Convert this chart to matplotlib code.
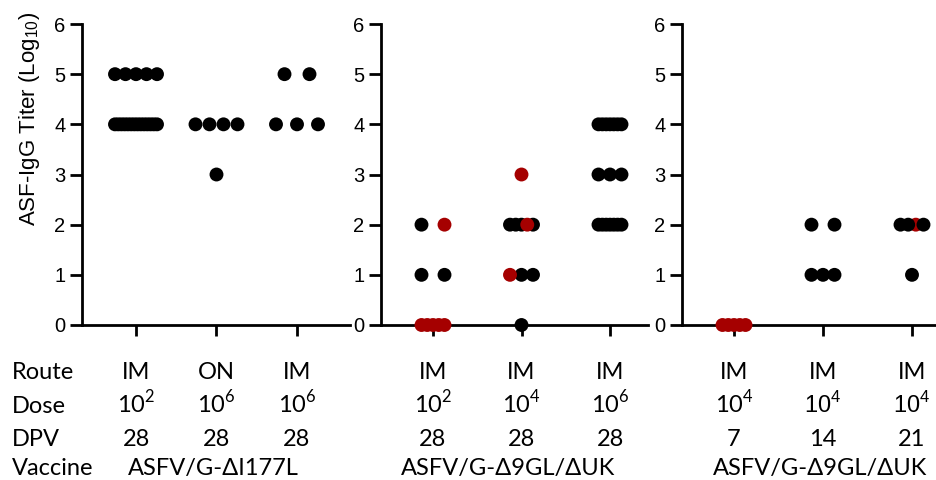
import matplotlib
matplotlib.use("Agg")
import matplotlib.pyplot as plt
import numpy as np
from matplotlib.transforms import blended_transform_factory

# ---------------- data ----------------
# each panel: three groups; values = log10 titer of each animal, red = 1 marks red dots
p1_values = [[5, 5, 5, 5, 5, 4, 4, 4, 4, 4, 4, 4, 4, 4, 4, 4, 4, 4, 4],
             [4, 4, 4, 4, 3],
             [5, 5, 4, 4, 4]]
p1_red = [[0] * 19, [0] * 5, [0] * 5]

p2_values = [[2, 2, 1, 1, 0, 0, 0, 0, 0],
             [3, 2, 2, 2, 2, 2, 1, 1, 1, 0],
             [4, 4, 4, 4, 4, 4, 4, 3, 3, 3, 2, 2, 2, 2, 2, 2, 2]]
p2_red = [[0, 1, 0, 0, 1, 1, 1, 1, 1],
          [1, 0, 0, 0, 1, 0, 1, 0, 0, 0],
          [0] * 17]

p3_values = [[0, 0, 0, 0, 0],
             [2, 2, 1, 1, 1],
             [2, 2, 2, 2, 1]]
p3_red = [[1] * 5, [0] * 5, [0, 0, 1, 0, 0]]

route = [["IM", "ON", "IM"], ["IM", "IM", "IM"], ["IM", "IM", "IM"]]
dose_exp = [[2, 6, 6], [2, 4, 6], [4, 4, 4]]
dpv = [["28", "28", "28"], ["28", "28", "28"], ["7", "14", "21"]]
vaccine = ["ASFV/G-ΔI177L", "ASFV/G-Δ9GL/ΔUK", "ASFV/G-Δ9GL/ΔUK"]
row_names = ["Route", "Dose", "DPV", "Vaccine"]
y_ticks = [0, 1, 2, 3, 4, 5, 6]
y_label = r"ASF-IgG Titer (Log$_{\mathregular{10}}$)"

# ---------------- layout (pixels) ----------------
W, H = 937, 480
panel_px = [(82, 350), (381, 648), (682, 937)]   # left/right of each axes
tick_px = [(136, 297), (433, 610), (734, 912)]   # pixel of group 1 and group 3
top_px, bot_px = 24, 325
spread_px = [42, 23, 23]
gap_cap_px = 25
red_on_top = [True, True, False]
BLACK, RED = "#000000", "#A50000"
marker_s = 100

panels = [(p1_values, p1_red), (p2_values, p2_red), (p3_values, p3_red)]

fig = plt.figure(figsize=(W / 100, H / 100), dpi=100)
axes = []
for i, (vals, reds) in enumerate(panels):
    l, r = panel_px[i]
    ax = fig.add_axes([l / W, (H - bot_px) / H, (r - l) / W, (bot_px - top_px) / H])
    axes.append(ax)
    t1, t3 = tick_px[i]
    ppu = (t3 - t1) / 2.0
    ax.set_xlim(1 - (t1 - l) / ppu, 3 + (r - t3) / ppu)
    ax.set_ylim(0, 6)
    xs, ys, cs, zs = [], [], [], []
    for g, (gv, gr) in enumerate(zip(vals, reds)):
        gv = np.asarray(gv)
        for lev in sorted(set(gv.tolist())):
            idx = [k for k in range(len(gv)) if gv[k] == lev]
            n = len(idx)
            width = min(spread_px[i], gap_cap_px * (n - 1)) if n > 1 else 0
            offs = np.linspace(-width / 2, width / 2, n) if n > 1 else np.array([0.0])
            for k, o in zip(idx, offs):
                xs.append(g + 1 + o / ppu)
                ys.append(lev)
                is_red = gr[k] == 1
                cs.append(RED if is_red else BLACK)
                zs.append((1 if is_red else 0) if red_on_top[i] else (0 if is_red else 1))
    order = np.argsort(zs, kind="stable")
    ax.scatter(np.array(xs)[order], np.array(ys)[order], s=marker_s,
               c=np.array(cs)[order], linewidths=0, clip_on=False, zorder=3)
    for sp in ["top", "right"]:
        ax.spines[sp].set_visible(False)
    for sp in ["left", "bottom"]:
        ax.spines[sp].set_linewidth(2.0)
    ax.set_xticks([1, 2, 3])
    ax.set_xticklabels([])
    ax.set_yticks(y_ticks)
    ax.set_yticklabels([str(t) for t in y_ticks], fontsize=14.5, family="Liberation Sans")
    ax.tick_params(axis="x", length=8, width=2.0, direction="out")
    ax.tick_params(axis="y", length=9, width=2.0, direction="out", pad=3)

fig.text(30 / W, (H - 119) / H, y_label, rotation=90, ha="center", va="center",
         fontsize=16, family="Liberation Sans")

# ---------------- table under the panels ----------------
tfont = "Lato"
tsize = 17
base_px = [379, 413, 446, 475]
for j, name in enumerate(row_names):
    fig.text(12 / W, (H - base_px[j]) / H, name, ha="left", va="baseline",
             fontsize=tsize, family=tfont)
for i, ax in enumerate(axes):
    tr = blended_transform_factory(ax.transData, fig.transFigure)
    for g in range(3):
        x = g + 1
        ax.text(x, (H - base_px[0]) / H, route[i][g], transform=tr, ha="center",
                va="baseline", fontsize=tsize, family=tfont)
        big = (i == 2 and g > 0)
        ax.text(x, (H - base_px[1]) / H, r"10$^{\mathregular{%d}}$" % dose_exp[i][g],
                transform=tr, ha="center", va="baseline",
                fontsize=17 if big else tsize,
                family="Liberation Sans" if big else tfont)
        ax.text(x, (H - base_px[2]) / H, dpv[i][g], transform=tr, ha="center",
                va="baseline", fontsize=tsize, family=tfont)
vac_px = [213, 508, 820]
for i, v in enumerate(vaccine):
    fig.text(vac_px[i] / W, (H - base_px[3]) / H, v, ha="center", va="baseline",
             fontsize=tsize, family=tfont)

fig.savefig("out.png", dpi=100)
